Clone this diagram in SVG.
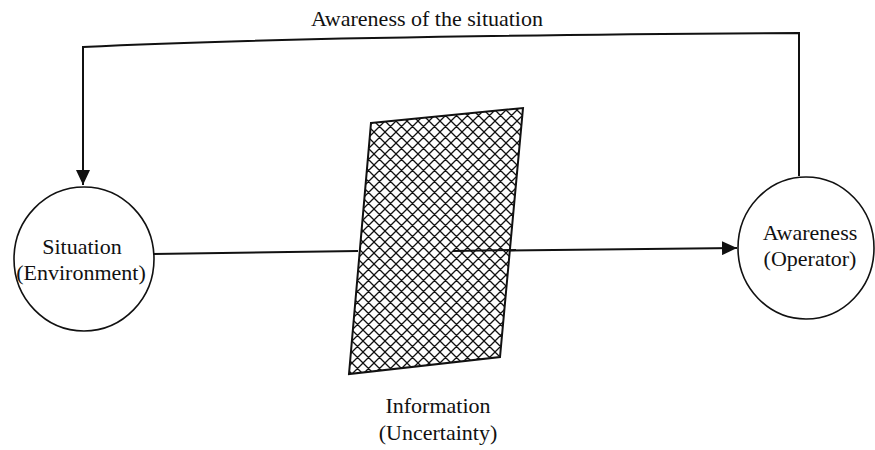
<svg xmlns="http://www.w3.org/2000/svg" width="875" height="450" viewBox="0 0 875 450">
  <style>
    .lbl { font-family: "Liberation Serif", "Times New Roman", serif; font-size: 22px; fill: #111; text-anchor: middle; }
    .node { fill: #fff; stroke: #111; stroke-width: 1.6; }
    .conn { fill: none; stroke: #111; stroke-width: 2; }
  </style>
  <defs>
    <pattern id="hatch" patternUnits="userSpaceOnUse" width="11" height="11">
      <rect width="11" height="11" fill="#fff"/>
      <path d="M-1,-1 L12,12 M-1,10 L1,12 M10,-1 L12,1 M12,-1 L-1,12 M1,-1 L-1,1 M12,10 L10,12" stroke="#111" stroke-width="1.3"/>
    </pattern>
    <marker id="arrow" viewBox="0 0 15 14" refX="15" refY="7" markerWidth="15" markerHeight="14" markerUnits="userSpaceOnUse" orient="auto">
      <path d="M0,0 L15,7 L0,14 Z" fill="#111"/>
    </marker>
  </defs>
  <rect width="875" height="450" fill="#fff"/>

  <g id="connectors">
    <path class="conn" d="M153,254 L358,251"/>
    <path class="conn" d="M453,251 L737,248" marker-end="url(#arrow)"/>
    <path class="conn" d="M799,176 L799,33 Q300,36 83,47 L83,185" marker-end="url(#arrow)"/>
  </g>

  <g id="information">
    <polygon points="371,123 523,108 500,357 349,374" fill="url(#hatch)" stroke="#111" stroke-width="2"/>
    <text class="lbl" x="438" y="413">Information</text>
    <text class="lbl" x="438" y="440">(Uncertainty)</text>
  </g>
  <path class="conn" d="M453,251 L516,250"/>

  <g id="situation">
    <ellipse class="node" cx="84" cy="259" rx="70" ry="72"/>
    <text class="lbl" x="82" y="254">Situation</text>
    <text class="lbl" x="81" y="280">(Environment)</text>
  </g>

  <g id="awareness">
    <ellipse class="node" cx="806" cy="248" rx="68" ry="71"/>
    <text class="lbl" x="810" y="240">Awareness</text>
    <text class="lbl" x="810" y="266">(Operator)</text>
  </g>

  <text id="title" class="lbl" x="427" y="26">Awareness of the situation</text>
</svg>
